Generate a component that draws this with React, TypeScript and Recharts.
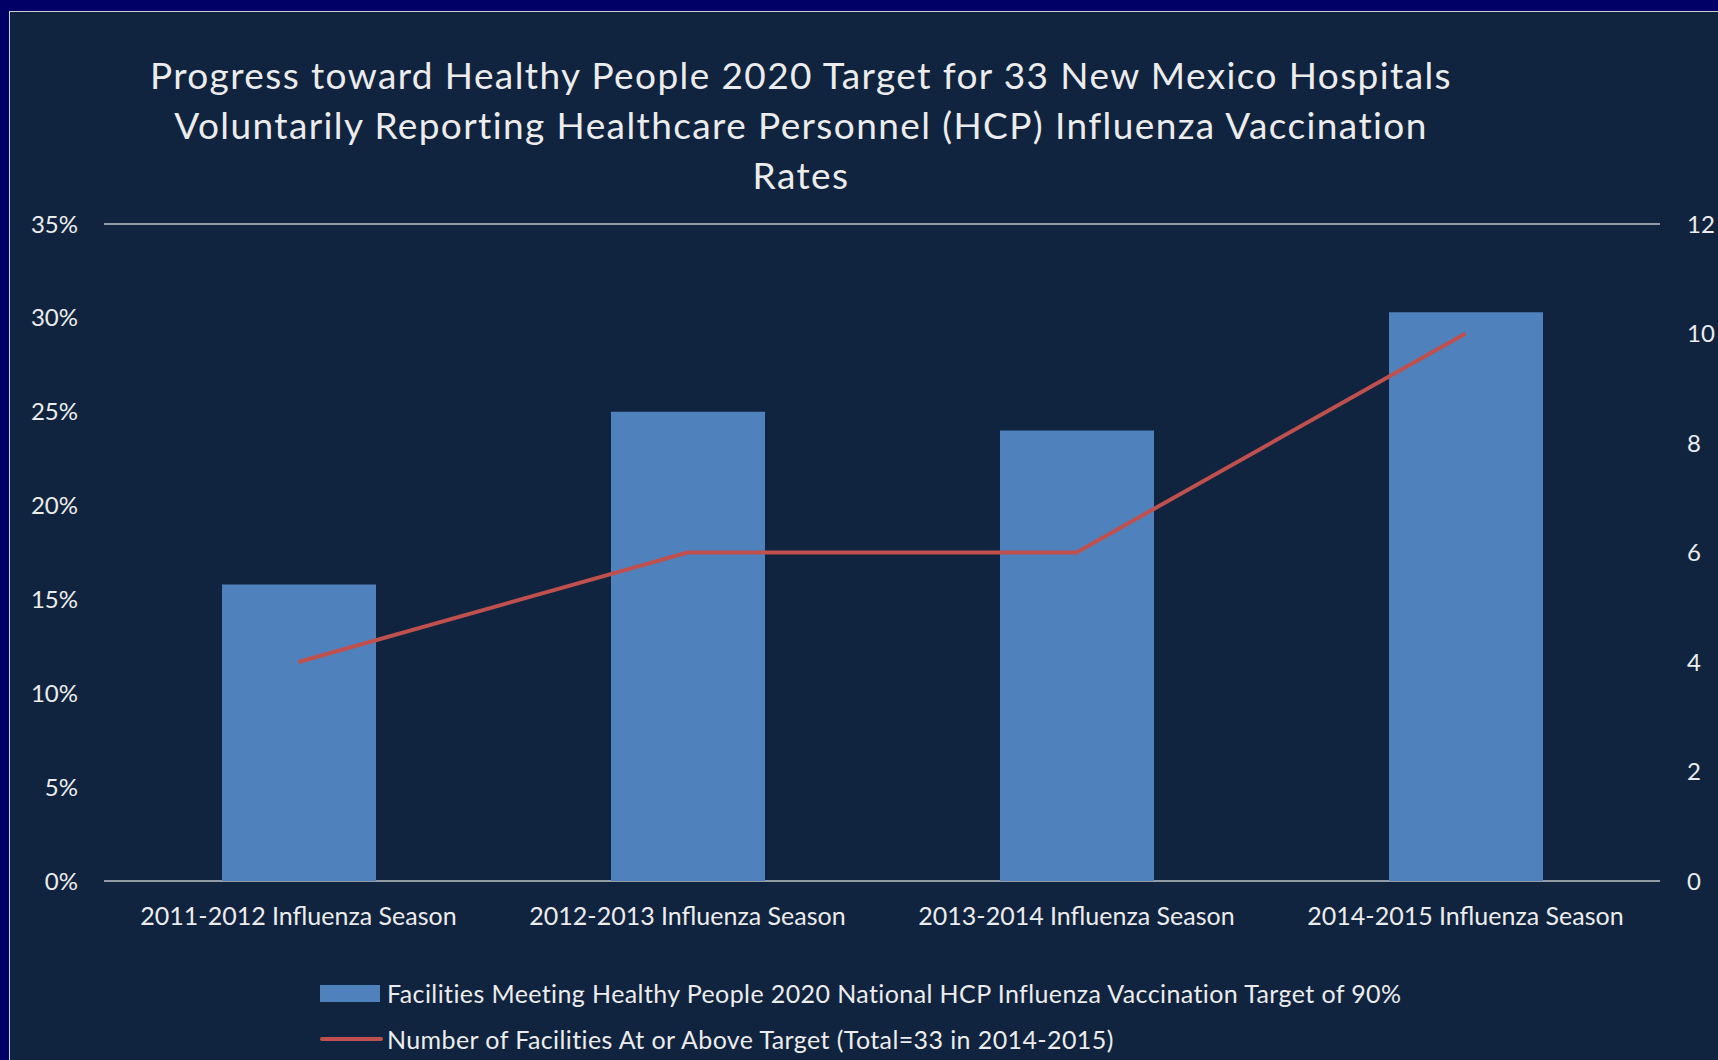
import React from "react";
import {
  ComposedChart,
  Bar,
  Line,
  XAxis,
  YAxis,
  CartesianGrid,
  Legend,
} from "recharts";

const categories = [
  "2011-2012 Influenza Season",
  "2012-2013 Influenza Season",
  "2013-2014 Influenza Season",
  "2014-2015 Influenza Season",
];
const pctMeetingTarget = [15.8, 25.0, 24.0, 30.3];
const facilitiesAtTarget = [4, 6, 6, 10];
const leftTicks = [0, 5, 10, 15, 20, 25, 30, 35];
const rightTicks = [0, 2, 4, 6, 8, 10, 12];

const BAR_NAME =
  "Facilities Meeting Healthy People 2020 National HCP Influenza Vaccination Target of 90%";
const LINE_NAME =
  "Number of Facilities At or Above Target (Total=33 in 2014-2015)";

const data = categories.map((season, i) => ({
  season,
  pct: pctMeetingTarget[i],
  count: facilitiesAtTarget[i],
}));

const FONT = "Lato, 'Open Sans', sans-serif";
const TEXT = "#ececec";
const BAR_COLOR = "#4F81BD";
const LINE_COLOR = "#C0504D";

// legend block is 76px tall; x axis band gets the rest of the 179px below the plot
const LEGEND_H = 76;

function ChartLegend() {
  return (
    <div
      style={{
        fontFamily: FONT,
        fontSize: 25,
        letterSpacing: 0.4,
        color: TEXT,
        height: LEGEND_H,
        whiteSpace: "nowrap",
      }}
    >
      <div style={{ display: "flex", alignItems: "center", height: 30 }}>
        <span
          style={{
            display: "inline-block",
            width: 60,
            height: 17,
            background: BAR_COLOR,
            marginRight: 7,
          }}
        />
        {BAR_NAME}
      </div>
      <div
        style={{ display: "flex", alignItems: "center", height: 30, marginTop: 16 }}
      >
        <span
          style={{
            display: "inline-block",
            width: 63,
            height: 4,
            borderRadius: 2,
            background: LINE_COLOR,
            marginRight: 4,
          }}
        />
        {LINE_NAME}
      </div>
    </div>
  );
}

export default function App() {
  return (
    <div
      style={{
        position: "fixed",
        left: 0,
        top: 0,
        width: 1718,
        height: 1060,
        background: "#000066",
        overflow: "hidden",
      }}
    >
      <div
        style={{
          position: "absolute",
          left: 9,
          top: 11,
          right: 0,
          bottom: 0,
          background: "#11243F",
          borderTop: "1px solid #cfcfcf",
          borderLeft: "1px solid #cfcfcf",
        }}
      />
      <div
        style={{
          position: "absolute",
          left: 0,
          top: 50,
          width: 1602,
          textAlign: "center",
          fontFamily: FONT,
          fontSize: 37,
          letterSpacing: 1.4,
          lineHeight: "50px",
          color: TEXT,
          whiteSpace: "nowrap",
        }}
      >
        Progress toward Healthy People 2020 Target for 33 New Mexico Hospitals
        <br />
        Voluntarily Reporting Healthcare Personnel (HCP) Influenza Vaccination
        <br />
        Rates
      </div>
      <div style={{ position: "absolute", left: 0, top: 0 }}>
        <ComposedChart
          width={1718}
          height={1060}
          data={data}
          margin={{ top: 224, right: 0, bottom: 0, left: 14 }}
        >
          <CartesianGrid vertical={false} stroke="#bfc3c8" strokeWidth={1.5} />
          <XAxis
            dataKey="season"
            axisLine={false}
            tickLine={false}
            tickSize={0}
            tickMargin={26}
            height={179 - LEGEND_H}
            tick={{ fontSize: 25, fill: TEXT, fontFamily: FONT }}
            interval={0}
          />
          <YAxis
            yAxisId="pct"
            domain={[0, 35]}
            ticks={leftTicks}
            tickFormatter={(v: number) => `${v}%`}
            axisLine={false}
            tickLine={false}
            tickSize={0}
            tickMargin={26}
            width={90}
            tick={{ fontSize: 24, fill: TEXT, fontFamily: FONT }}
          />
          <YAxis
            yAxisId="count"
            orientation="right"
            domain={[0, 12]}
            ticks={rightTicks}
            axisLine={false}
            tickLine={false}
            tickSize={0}
            tickMargin={27}
            width={58}
            tick={{
              fontSize: 24,
              fill: TEXT,
              fontFamily: FONT,
              textAnchor: "start",
            }}
          />
          <Legend
            content={() => <ChartLegend />}
            wrapperStyle={{ left: 320, top: 978, width: 1300 }}
          />
          <Bar
            yAxisId="pct"
            dataKey="pct"
            name={BAR_NAME}
            fill={BAR_COLOR}
            barSize={154}
            isAnimationActive={false}
          />
          <Line
            yAxisId="count"
            dataKey="count"
            name={LINE_NAME}
            type="linear"
            stroke={LINE_COLOR}
            strokeWidth={4}
            dot={false}
            isAnimationActive={false}
          />
        </ComposedChart>
      </div>
    </div>
  );
}
